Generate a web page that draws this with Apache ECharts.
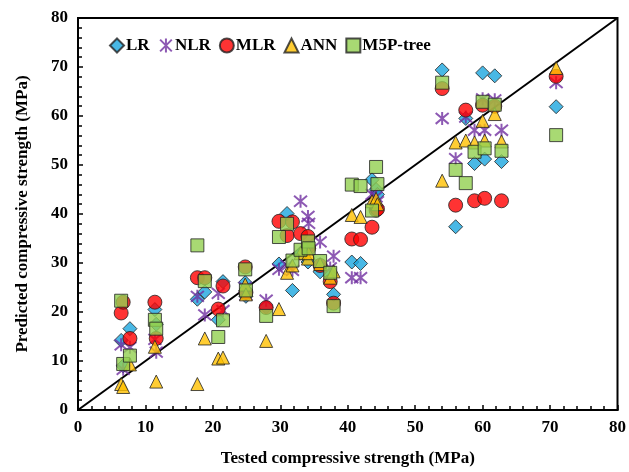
<!DOCTYPE html>
<html>
<head>
<meta charset="utf-8">
<script src="https://cdn.jsdelivr.net/npm/echarts@6/dist/echarts.min.js"></script>
<style>html,body{margin:0;padding:0;background:#fff;}#c{width:629px;height:472px;}</style>
</head>
<body>
<div id="c"></div>
<script>
// Tested compressive strength (MPa) for each sample
const tested = [6.4, 6.7, 7.7, 11.4, 11.6, 17.7, 18.8, 20.8, 21.5, 24.8, 24.9, 27.9, 29.8, 31.0, 31.8, 33.0, 34.1, 34.2, 35.9, 37.4, 37.9, 40.6, 41.9, 43.6, 44.2, 44.4, 54.0, 56.0, 57.5, 58.8, 60.0, 60.3, 61.8, 62.8, 70.9];
// Predicted values per model
const lr   = [14.2, 9.0, 16.6, 20.5, 17.5, 22.6, 24.1, 18.4, 26.2, 26.0, 23.2, 21.0, 29.8, 40.1, 24.4, 32.0, 30.2, 33.0, 28.2, 27.5, 23.6, 30.2, 29.9, 47.0, 45.0, 44.0, 69.4, 37.4, 59.5, 50.3, 68.8, 51.2, 68.2, 50.7, 61.9];
const nlr  = [13.3, 8.3, 12.8, 14.4, 11.8, 23.2, 19.4, 23.8, 20.3, 25.0, 23.5, 22.4, 28.7, 29.5, 28.5, 42.6, 39.5, 38.1, 34.3, 29.0, 31.4, 27.0, 27.0, 44.0, 43.5, 42.5, 59.5, 51.3, 59.8, 57.1, 63.5, 57.1, 63.3, 57.1, 66.8];
const mlr  = [19.8, 22.0, 14.6, 22.0, 14.6, 27.0, 27.0, 20.6, 25.3, 29.2, 24.0, 20.9, 38.5, 35.6, 38.4, 36.0, 35.4, 33.0, 29.5, 26.2, 21.8, 34.9, 34.8, 37.3, 40.8, 41.0, 65.6, 41.8, 61.2, 42.7, 62.2, 43.2, 62.0, 42.7, 68.1];
const ann  = [5.3, 4.7, 9.3, 12.9, 5.8, 5.3, 14.6, 10.5, 10.7, 25.6, 23.6, 14.1, 20.6, 28.0, 29.5, 32.0, 30.9, 32.0, 29.8, 27.0, 28.3, 39.8, 39.4, 42.6, 43.1, 42.0, 46.8, 54.6, 55.0, 54.6, 59.0, 55.0, 60.4, 54.8, 69.8];
const m5p  = [22.3, 9.4, 11.1, 18.4, 16.6, 33.6, 26.3, 14.9, 18.3, 28.7, 24.4, 19.2, 35.3, 38.0, 30.5, 32.7, 34.4, 33.0, 30.4, 28.0, 21.2, 46.0, 45.7, 40.7, 49.6, 46.1, 66.8, 49.0, 46.3, 52.7, 62.9, 53.4, 62.3, 52.9, 56.1];
const lineEnds = [0, 80];
const seriesNames = ['LR', 'NLR', 'MLR', 'ANN', 'M5P-tree'];

const pair = arr => tested.map((t, i) => [t, arr[i]]);
const font = '"Liberation Serif", "Times New Roman", serif';
const edge = '#222';
const asterisk = 'path://M0,0L10,10M10,0L0,10M5,-1L5,11';

const chart = echarts.init(document.getElementById('c'), null, {renderer: 'canvas'});
const axisCommon = {
  min: 0, max: 80, interval: 10,
  axisLine: {show: true, onZero: false, lineStyle: {color: '#000', width: 2}},
  axisTick: {show: true, inside: true, length: 5, lineStyle: {color: '#000', width: 1.5}},
  minorTick: {show: true, splitNumber: 5, length: 4, lineStyle: {color: '#000', width: 1.5}},
  splitLine: {show: false},
  axisLabel: {color: '#000', fontFamily: font, fontWeight: 'bold', fontSize: 17},
  nameLocation: 'middle',
  nameTextStyle: {color: '#000', fontFamily: font, fontWeight: 'bold', fontSize: 17}
};
chart.setOption({
  animation: false,
  backgroundColor: '#fff',
  grid: {left: 78, right: 9, top: 18, bottom: 62, show: true, borderColor: '#000', borderWidth: 2},
  legend: {
    left: 104, top: 31, itemWidth: 14, itemHeight: 14, itemGap: 8,
    textStyle: {color: '#000', fontFamily: font, fontWeight: 'bold', fontSize: 17, padding: [0, 0, 0, -3]},
    data: seriesNames
  },
  xAxis: Object.assign({}, axisCommon, {
    type: 'value', name: 'Tested compressive strength (MPa)', nameGap: 40,
    axisLabel: Object.assign({}, axisCommon.axisLabel, {margin: 9})
  }),
  yAxis: Object.assign({}, axisCommon, {
    type: 'value', name: 'Predicted compressive strength (MPa)', nameGap: 47,
    axisLabel: Object.assign({}, axisCommon.axisLabel, {margin: 10})
  }),
  series: [
    {type: 'line', data: lineEnds.map(v => [v, v]), symbol: 'none', silent: true,
     lineStyle: {color: '#000', width: 2}, z: 1},
    {name: 'LR', type: 'scatter', data: pair(lr), symbol: 'diamond', symbolSize: 14,
     itemStyle: {color: '#1CA6DF', borderColor: edge, borderWidth: 1}, z: 2},
    {name: 'NLR', type: 'scatter', data: pair(nlr), symbol: asterisk, symbolSize: 13,
     itemStyle: {color: 'none', borderColor: '#7030A0', borderWidth: 2}, z: 2},
    {name: 'MLR', type: 'scatter', data: pair(mlr), symbol: 'circle', symbolSize: 14,
     itemStyle: {color: '#FF0000', borderColor: edge, borderWidth: 1}, z: 2},
    {name: 'ANN', type: 'scatter', data: pair(ann), symbol: 'triangle', symbolSize: 13,
     itemStyle: {color: '#FFC000', borderColor: edge, borderWidth: 1}, z: 2},
    {name: 'M5P-tree', type: 'scatter', data: pair(m5p), symbol: 'rect', symbolSize: 13,
     itemStyle: {color: '#92D050', borderColor: edge, borderWidth: 1}, z: 2}
  ]
});
</script>
</body>
</html>
